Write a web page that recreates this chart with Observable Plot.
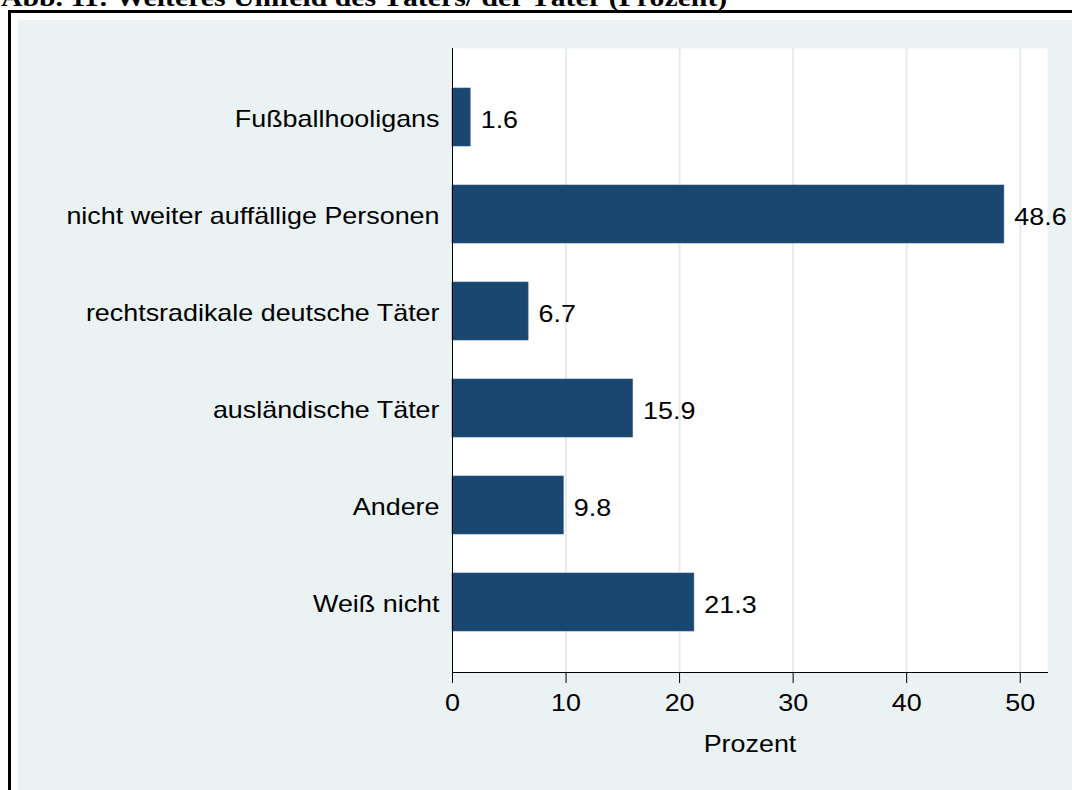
<!DOCTYPE html>
<html>
<head>
<meta charset="utf-8">
<script src="https://cdn.jsdelivr.net/npm/d3@7"></script>
<script src="https://cdn.jsdelivr.net/npm/@observablehq/plot@0.6"></script>
<style>
  html, body { margin: 0; padding: 0; background: #fff; overflow: hidden; width: 1072px; height: 790px; }
  #title { position: absolute; left: 1px; top: -15px; font-family: "Liberation Serif", "Times New Roman", serif; font-weight: bold; font-size: 26px; line-height: 26px; white-space: nowrap; color: #000; transform: scaleX(1.145); transform-origin: left top; }
  #frame { position: absolute; left: 8px; top: 10px; width: 1100px; height: 820px; border: 3px solid #000; padding: 7px; background: #fff; box-sizing: border-box; }
  #inner { position: absolute; left: 7px; top: 7px; width: 1080px; height: 800px; background: #eaf2f3; }
  #chart { position: absolute; left: 0; top: 0; }
</style>
</head>
<body>
<div id="title">Abb. 11: Weiteres Umfeld des Täters/ der Täter (Prozent)</div>
<div id="frame"><div id="inner"><div id="chart"></div></div></div>
<script>
const categories = [
  "Fußballhooligans",
  "nicht weiter auffällige Personen",
  "rechtsradikale deutsche Täter",
  "ausländische Täter",
  "Andere",
  "Weiß nicht"
];
const values = [1.6, 48.6, 6.7, 15.9, 9.8, 21.3];
const xTicks = [0, 10, 20, 30, 40, 50];
const xLabel = "Prozent";

const data = categories.map((c, i) => ({category: c, value: values[i]}));
const navy = "#1a476f";
const FS = 24;

const chart = Plot.plot({
  width: 1054,
  height: 770,
  marginLeft: 434,
  marginRight: 25,
  marginTop: 28,
  marginBottom: 118,
  style: {fontFamily: "'Liberation Sans', Arial, sans-serif", fontSize: FS + "px", color: "#000", background: "transparent"},
  x: {domain: [0, 52.4]},
  y: {domain: categories, padding: 0.4},
  marks: [
    Plot.frame({fill: "#ffffff", stroke: null}),
    Plot.gridX(xTicks.filter(d => d > 0), {stroke: "#e3edf0", strokeOpacity: 1, strokeWidth: 2}),
    Plot.barX(data, {x: "value", y: "category", fill: navy, stroke: "#2d5b82", strokeWidth: 0.6}),
    Plot.text(data, {x: "value", y: "category", text: d => d.value.toFixed(1), dx: 10, dy: 3, textAnchor: "start", fontSize: FS, fill: "#000"}),
    Plot.axisX({ticks: xTicks, tickSize: 11, tickPadding: 10, fontSize: FS, label: null, stroke: "#000"}),
    Plot.axisY({tickSize: 0, tickPadding: 13, fontSize: FS, label: null, dy: 1.5}),
    Plot.text([xLabel], {frameAnchor: "bottom", dy: 62, lineAnchor: "top", fontSize: FS, fill: "#000"}),
    Plot.frame({anchor: "bottom", stroke: "#000", strokeWidth: 1}),
    Plot.frame({anchor: "left", stroke: "#000", strokeWidth: 1})
  ]
});
document.getElementById("chart").appendChild(chart);

// Reference glyphs are horizontally stretched (~1.12x); reproduce by textLength.
const S = 1.12;
chart.querySelectorAll("text").forEach(t => {
  const L = t.getComputedTextLength();
  if (L > 0) {
    t.setAttribute("textLength", (L * S).toFixed(1));
    t.setAttribute("lengthAdjust", "spacingAndGlyphs");
  }
});
</script>
</body>
</html>
